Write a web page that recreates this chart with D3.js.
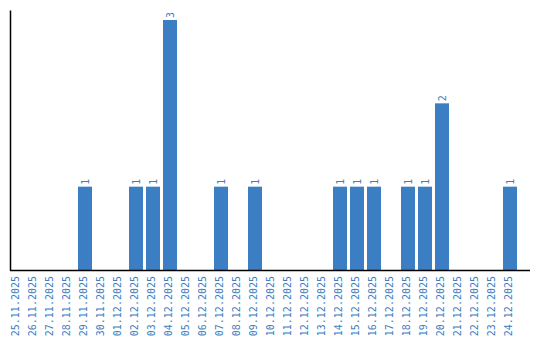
<!DOCTYPE html>
<html>
<head>
<meta charset="utf-8">
<script src="https://cdn.jsdelivr.net/npm/d3@7"></script>
<style>
  body { margin: 0; background: #fff; }
  text { font-family: "DejaVu Sans Mono", monospace; }
</style>
</head>
<body>
<div id="chart"></div>
<script>
var dates = ["25.11.2025","26.11.2025","27.11.2025","28.11.2025","29.11.2025","30.11.2025",
  "01.12.2025","02.12.2025","03.12.2025","04.12.2025","05.12.2025","06.12.2025","07.12.2025",
  "08.12.2025","09.12.2025","10.12.2025","11.12.2025","12.12.2025","13.12.2025","14.12.2025",
  "15.12.2025","16.12.2025","17.12.2025","18.12.2025","19.12.2025","20.12.2025","21.12.2025",
  "22.12.2025","23.12.2025","24.12.2025"];
var counts = [0,0,0,0,1,0,
  0,1,1,3,0,0,1,
  0,1,0,0,0,0,1,
  1,1,0,1,1,2,0,
  0,0,1];

var width = 540, height = 340;
var barColor = "#3b7ec3";

// only days with something to show get a bar
var rows = dates.map(function(d,i){ return {date: d, count: counts[i]}; })
  .filter(function(r){ return r.count > 0; });

var svg = d3.select("#chart").append("svg")
  .attr("width", width)
  .attr("height", height);

var x = d3.scaleBand()
  .domain(dates)
  .range([10, 517])
  .paddingInner(3/17)
  .paddingOuter(0)
  .align(0);

var y = d3.scaleLinear()
  .domain([0, 3.12])
  .range([270, 10]);

// bars
svg.selectAll("rect.bar")
  .data(rows)
  .enter()
  .append("rect")
  .attr("class","bar")
  .attr("x", function(d){ return x(d.date); })
  .attr("y", function(d){ return y(d.count); })
  .attr("width", x.bandwidth())
  .attr("height", function(d){ return y(0) - y(d.count); })
  .style("fill", barColor);

// value labels
svg.selectAll("text.val")
  .data(rows)
  .enter()
  .append("text")
  .attr("class","val")
  .attr("transform", function(d){
    return "translate(" + (x(d.date) + x.bandwidth()/2 + 3.5) + "," + (y(d.count) - 2) + ") rotate(-90)";
  })
  .attr("text-anchor","start")
  .style("font-size","10px")
  .style("fill", barColor)
  .text(function(d){ return d.count; });

// x axis
var xAxis = svg.append("g")
  .attr("transform","translate(0,270)")
  .call(d3.axisBottom(x).tickSize(0).tickSizeOuter(0));
xAxis.select(".domain")
  .attr("d","M10,0.5H530")
  .style("stroke","#000")
  .style("stroke-width","1.5");
xAxis.selectAll("text")
  .attr("transform","rotate(-90)")
  .attr("x", -6)
  .attr("y", 0)
  .attr("dy","0.2em")
  .attr("text-anchor","end")
  .style("font-family","'DejaVu Sans Mono', monospace")
  .style("font-size","10px")
  .style("fill", barColor);

// y axis
var yAxis = svg.append("g")
  .attr("transform","translate(10,0)")
  .call(d3.axisLeft(y).tickValues([]).tickSizeOuter(0));
yAxis.select(".domain")
  .style("stroke","#000")
  .style("stroke-width","1.5");
</script>
</body>
</html>
